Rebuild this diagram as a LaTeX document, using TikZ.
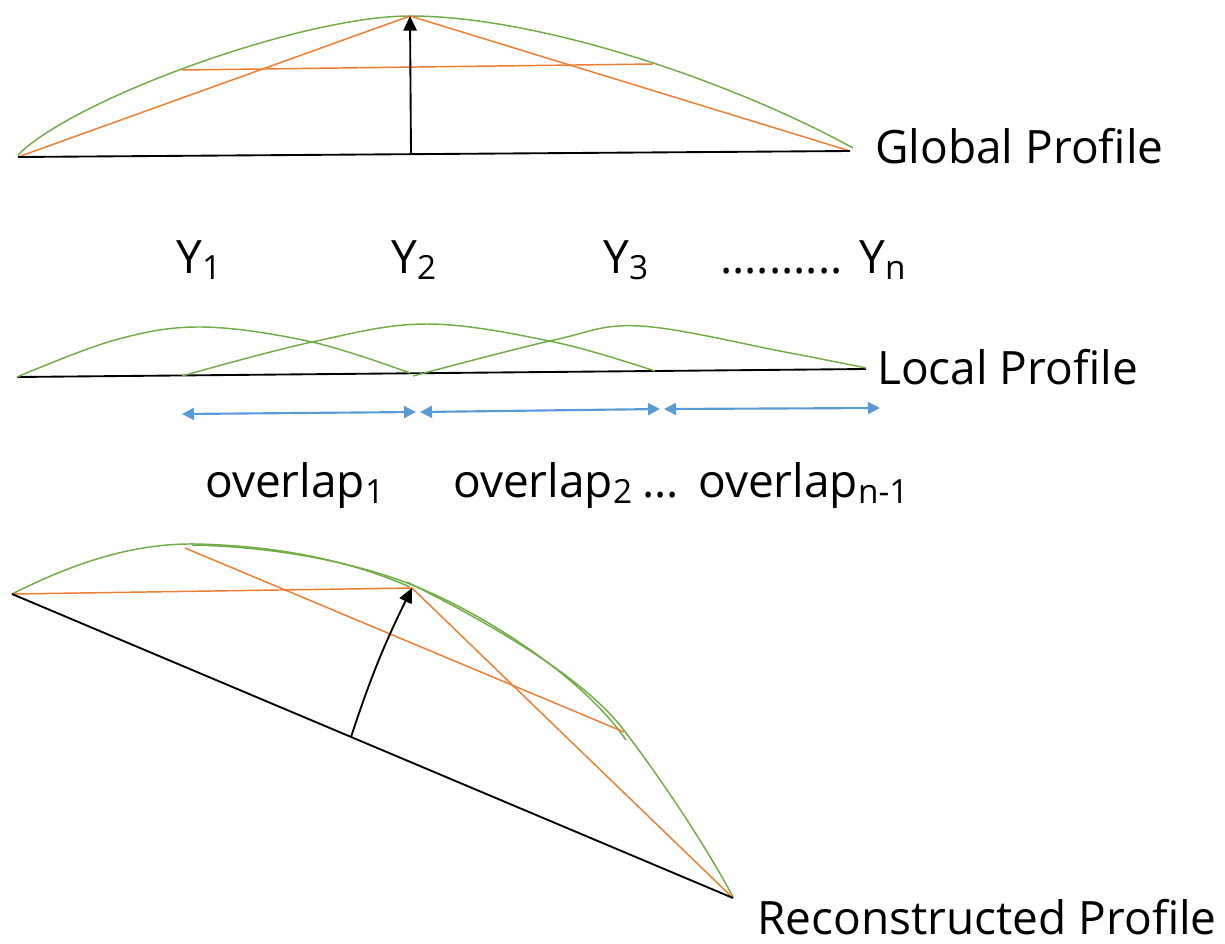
\documentclass[tikz,border=0pt]{standalone}
\usepackage{fontspec}
\setmainfont{Open Sans}
\usetikzlibrary{arrows.meta}
\definecolor{pgreen}{HTML}{70AD47}
\definecolor{porange}{HTML}{ED7D31}
\definecolor{pblue}{HTML}{5B9BD5}
\newcommand\lowsub[1]{\raisebox{-4.5pt}{\fontsize{25}{25}\selectfont #1}}
\begin{document}
\begin{tikzpicture}[x=0.75pt,y=-0.75pt,
  greenline/.style={draw=pgreen,line width=1.1pt,line join=round},
  orangeline/.style={draw=porange,line width=1.1pt},
  axisline/.style={draw=black,line width=1.4pt},
  blackarrow/.style={draw=black,line width=1.4pt,-{Triangle[length=11pt,width=10pt]}},
  bluearrow/.style={draw=pblue,line width=1.6pt,{Triangle[length=9pt,width=9pt]}-{Triangle[length=9pt,width=9pt]}},
  lbl/.style={font=\fontsize{34.5}{40}\selectfont,inner sep=0pt,anchor=base west}
]
\path[use as bounding box] (0,0) rectangle (1225,943);

% ---------- Global profile ----------
\coordinate (gL) at (18,157);
\coordinate (gR) at (850,151);
\coordinate (gTop) at (410,16);
\coordinate (gFoot) at (411,154.5);
\coordinate (hL) at (182,70);
\coordinate (hR) at (653,64);
\draw[greenline] (18,155) .. controls (72,100) and (300,16) .. (410,16)
                 .. controls (540,16) and (733,82) .. (853,148);
\draw[orangeline] (gL) -- (gTop) -- (gR);
\draw[orangeline] (hL) -- (hR);
\draw[axisline] (gL) -- (gR);
\draw[blackarrow] (gFoot) -- (gTop);
\node[lbl] (tG) at (875,163) {Global Profile};

% ---------- Y labels ----------
\node[lbl] (y1) at (176,273) {Y\lowsub{1}};
\node[lbl] (y2) at (391,273) {Y\lowsub{2}};
\node[lbl] (y3) at (603,273) {Y\lowsub{3}};
\node[lbl] (ydots) at (720,273) {..........};
\node[lbl] (yn) at (859,273) {Y\lowsub{n}};

% ---------- Local profile ----------
\coordinate (lL) at (17,377);
\coordinate (lR) at (866,369);
\draw[axisline] (lL) -- (lR);
\draw[greenline] plot[smooth,tension=0.6] coordinates {(17,377) (115,340) (202,327) (312,342) (410,373)};
\draw[greenline] plot[smooth,tension=0.6] coordinates {(182,376) (312,342) (427,324) (554,342) (655,371)};
\draw[greenline] plot[smooth,tension=0.6] coordinates {(413,376) (554,340) (640,326) (785,352) (866,368)};
\node[lbl] (tL) at (877,384) {Local Profile};

% ---------- overlap arrows ----------
\coordinate (a1) at (182,414);
\coordinate (a2) at (416,412);
\coordinate (a3) at (420,412);
\coordinate (a4) at (660,409);
\coordinate (a5) at (664,409);
\coordinate (a6) at (880,408);
\draw[bluearrow] (a1) -- (a2);
\draw[bluearrow] (a3) -- (a4);
\draw[bluearrow] (a5) -- (a6);
\node[lbl] (o1) at (205,497) {overlap\lowsub{1}};
\node[lbl] (o2) at (453,497) {overlap\lowsub{2}};
\node[lbl] (odots) at (642,497) {...};
\node[lbl] (on) at (698,497) {overlap\lowsub{n-1}};

% ---------- Reconstructed profile ----------
\coordinate (rL) at (12,594);
\coordinate (rR) at (733,898);
\coordinate (rP) at (412,588);
\coordinate (rT) at (185,548);
\coordinate (rE) at (624,732);
\coordinate (rFoot) at (351,737);
\draw[greenline] (12,594) .. controls (70,565) and (130,543) .. (196,544)
                 .. controls (290,546) and (360,565) .. (410,587);
\draw[greenline] (192,545) .. controls (280,547) and (355,563) .. (410,584)
                 .. controls (490,616) and (585,680) .. (626,740);
\draw[greenline] (407,582) .. controls (500,628) and (585,680) .. (623,729)
                 .. controls (650,764) and (700,835) .. (733,897);
\draw[orangeline] (rL) -- (rP) -- (rR);
\draw[orangeline] (rT) -- (rE);
\draw[axisline] (rL) -- (rR);
\draw[blackarrow] (rFoot) to[bend left=4] (rP);
\node[lbl] (tR) at (757,934) {Reconstructed Profile};
\end{tikzpicture}
\end{document}
